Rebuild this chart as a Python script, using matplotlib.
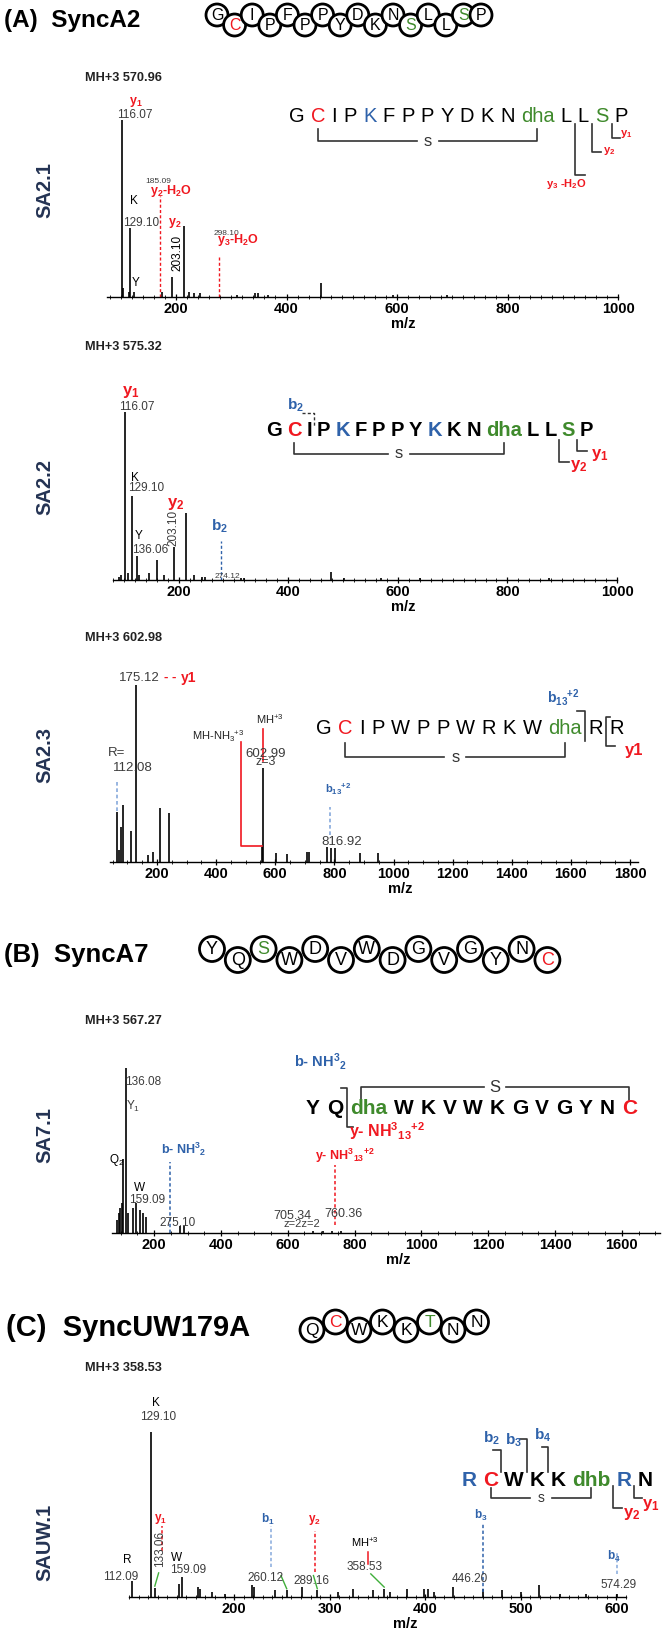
import matplotlib
matplotlib.use("Agg")
import matplotlib.pyplot as plt
from matplotlib.lines import Line2D
from matplotlib.patches import Ellipse
from matplotlib.ticker import MultipleLocator

plt.rcParams["font.family"] = ["Liberation Sans", "DejaVu Sans"]
plt.rcParams["mathtext.default"] = "regular"

RED = "#f01820"
BLUE = "#2f62aa"
LBLUE = "#86a9dc"
GREEN = "#3f8a2c"
NAVY = "#243353"
GREY = "#3c3c3c"
CMAP = {"k": "black", "r": RED, "b": BLUE, "g": GREEN}

# ---------------- data ----------------
headers = ["(A)  SyncA2", "(B)  SyncA7", "(C)  SyncUW179A"]
beads_a = list("GCIPFPPYDKNSLLSP")
beads_b = list("YQSWDVWDGVGYNC")
beads_c = list("QCWKKTNN")
ups_a = [1, 0, 1, 0, 1, 0, 1, 0, 1, 0, 1, 0, 1, 0, 1, 1]
ups_b = [1, 0, 1, 0, 1, 0, 1, 0, 1, 0, 1, 0, 1, 0]
ups_c = [0, 1, 0, 1, 0, 1, 0, 1]
bead_colors = {"C": RED, "S": GREEN, "T": GREEN}

precursors = ["MH+3 570.96", "MH+3 575.32", "MH+3 602.98", "MH+3 567.27", "MH+3 358.53"]
names = ["SA2.1", "SA2.2", "SA2.3", "SA7.1", "SAUW.1"]

# SA2.1 peaks (m/z, relative intensity %)
sa21_mz = [102, 104, 114, 116.5, 123, 174, 192, 215, 224, 233, 244, 310, 343, 349, 366, 463, 592, 690]
sa21_int = [100, 5, 3, 39, 3, 3, 11.5, 40, 3, 2, 2, 1, 2, 2, 1, 8, 1, 1]
sa21_frag_mz = [171, 278]
sa21_frag_top = [57, 24]

# SA2.2
sa22_mz = [91, 95, 101.4, 107, 115, 123, 127, 145, 161, 173, 190.5, 213, 228, 243, 248, 314, 319,
           477.5, 501, 569, 640, 876]
sa22_int = [2, 3, 100, 4, 50, 14, 3, 4, 12, 3, 19.5, 40, 3, 2, 2, 1, 1, 5, 1, 1, 1, 1]
sa22_frag_mz = [276.6]
sa22_frag_top = [23]

# SA2.3
sa23_mz = [66, 71.5, 77, 84, 112, 129, 168.5, 185, 210, 240.6, 555, 559.8, 601.5, 638.8, 708.5, 713,
           774, 789, 802, 887, 948.7]
sa23_int = [28.4, 7, 20, 32, 17.7, 100, 4, 5.8, 30.7, 27.9, 8.6, 53, 4.9, 4.5, 5.8, 5.8, 8.3, 8, 8, 4.9, 4.9]
sa23_frag_mz = [66, 785]
sa23_frag_lo = [29, 15]
sa23_frag_hi = [46, 31]

# SA7.1
sa71_mz = [89, 94, 98, 103, 108, 115, 123, 136, 146, 158, 168, 176, 278, 290, 676, 705, 731, 760]
sa71_int = [8, 12, 15, 18, 45, 100, 12, 15, 18, 14, 12, 10, 4, 4, 1, 1.5, 1, 1.5]
sa71_frag_mz = [249, 740]
sa71_frag_lo = [0, 5]
sa71_frag_hi = [43, 41]

# SAUW.1
uw_mz = [93, 113, 117, 142, 145, 162, 164, 177, 190, 219, 221, 243, 255, 271, 287, 309, 324, 345, 357,
         363, 381, 399, 403, 409, 429, 460, 480, 500, 519, 541, 568, 601]
uw_int = [9.4, 100, 5.6, 8, 12, 6, 5, 3, 2, 7, 6, 4, 4, 6, 4, 3, 5, 4, 5, 3, 5, 5, 5, 3, 6, 5, 4,
          3, 7.5, 2, 2, 2]
uw_frag_mz = [125, 239, 285, 460, 601]
uw_frag_lo = [28, 18, 15, 3, 14]
uw_frag_hi = [43, 43, 40, 45, 27]
uw_frag_col = [RED, LBLUE, RED, BLUE, LBLUE]

seq_21 = ["G", "C", "I", "P", "K", "F", "P", "P", "Y", "D", "K", "N", "dha", "L", "L", "S", "P"]
col_21 = "krkkbkkkkkkkgkkgk"
seq_22 = ["G", "C", "I", "P", "K", "F", "P", "P", "Y", "K", "K", "N", "dha", "L", "L", "S", "P"]
col_22 = "krkkbkkkkbkkgkkgk"
seq_23 = ["G", "C", "I", "P", "W", "P", "P", "W", "R", "K", "W", "dha", "R", "R"]
col_23 = "krkkkkkkkkkgkk"
seq_71 = ["Y", "Q", "dha", "W", "K", "V", "W", "K", "G", "V", "G", "Y", "N", "C"]
col_71 = "kkgkkkkkkkkkkr"
seq_uw = ["R", "C", "W", "K", "K", "dhb", "R", "N"]
col_uw = "brkkkgbk"

# ---------------- helpers ----------------
W, H = 664, 1639
fig = plt.figure(figsize=(W / 100, H / 100), dpi=100)
REND = fig.canvas.get_renderer()


def ftext(x, y, s, **kw):
    kw.setdefault("ha", "center")
    kw.setdefault("va", "center")
    return fig.text(x / W, 1 - y / H, s, **kw)


def fline(xs, ys, color="#333333", lw=1.2, ls="-"):
    fig.add_artist(Line2D([x / W for x in xs], [1 - y / H for y in ys], transform=fig.transFigure,
                          color=color, lw=lw, linestyle=ls))


def beads(letters, ups, x0, step, y_up, y_down, r, size):
    for i, (ch, up) in enumerate(zip(letters, ups)):
        x = x0 + i * step
        y = y_up if up else y_down
        fig.add_artist(Ellipse((x / W, 1 - y / H), 2 * r / W, 2 * r / H, transform=fig.transFigure,
                               facecolor="white", edgecolor="black", lw=2.0, zorder=3))
        ftext(x, y + 0.5, ch, fontsize=size, color=bead_colors.get(ch, "black"), zorder=4)


def seq_row(tokens, colors, x0, y, size=14.5, gap=6.0, weight="normal"):
    spans = []
    x = x0
    for tok, c in zip(tokens, colors):
        t = ftext(x, y, tok, color=CMAP[c], fontsize=size, fontweight=weight, ha="left")
        w = t.get_window_extent(renderer=REND).width
        spans.append((x, x + w))
        x += w + gap
    return spans


def mid(spans, i):
    return (spans[i][0] + spans[i][1]) / 2


def between(spans, i):
    return (spans[i][1] + spans[i + 1][0]) / 2


def s_bracket(x1, x2, y_end, y_bar, label="s", size=12):
    xm = (x1 + x2) / 2
    fline([x1, x1, xm - 11], [y_end, y_bar, y_bar])
    fline([xm + 11, x2, x2], [y_bar, y_bar, y_end])
    ftext(xm, y_bar, label, fontsize=size, color="#333333")


def spectrum(box, xlim, ticks, minor, mz, inten, name, prec, mz_x, name_y):
    left, right, base, top = box
    ax = fig.add_axes([left / W, 1 - base / H, (right - left) / W, (base - top) / H])
    ax.patch.set_alpha(0)
    ax.vlines(mz, 0, inten, color="black", lw=1.2)
    ax.set_xlim(*xlim)
    ax.set_ylim(0, 100)
    for s in ("left", "right", "top"):
        ax.spines[s].set_visible(False)
    ax.spines["bottom"].set_linewidth(1.0)
    ax.set_yticks([])
    ax.set_xticks(ticks)
    ax.xaxis.set_minor_locator(MultipleLocator(minor))
    ax.tick_params(axis="x", which="major", direction="inout", length=5, width=0.9,
                   labelsize=10.5, pad=1)
    ax.tick_params(axis="x", which="minor", direction="inout", length=3, width=0.6)
    for lab in ax.get_xticklabels():
        lab.set_fontweight("bold")
    ftext(mz_x, base + 27, "m/z", fontsize=10.5, fontweight="bold")
    ftext(45, name_y, name, rotation=90, fontsize=14.5, fontweight="bold", color=NAVY)
    ftext(85, prec, precursors[names.index(name)], ha="left", fontsize=9.2, fontweight="bold",
          color="#222222")
    return ax


def small(x, y, s, size=8.5, color=GREY, **kw):
    return ftext(x, y, s, fontsize=size, color=color, **kw)


def ion(x, y, s, color=RED, size=8.5, **kw):
    return ftext(x, y, s, fontsize=size, color=color, fontweight="bold", **kw)


def dnote(ax, x, y, s, size=8.5, color=GREY, weight="normal", **kw):
    ax.text(x, y, s, fontsize=size, color=color, fontweight=weight, ha="center", va="center",
            clip_on=False, **kw)


DASH = (0, (2.2, 1.6))

# ---------------- panel A ----------------
ftext(4, 20, headers[0], ha="left", fontsize=17.5, fontweight="bold")
beads(beads_a, ups_a, 217, 17.6, 15, 25, 11, 11.5)

# SA2.1
ax = spectrum((107, 618, 297, 120), (75, 1000), range(200, 1001, 200), 20,
              sa21_mz, sa21_int, "SA2.1", 78, 403, 190)
ax.vlines(sa21_frag_mz, 0, sa21_frag_top, colors=RED, lw=1.0, linestyles=[DASH])
dnote(ax, 128, 110, "y$_1$", size=9, color=RED, weight="bold")
dnote(ax, 125, 103, "116.07")
dnote(ax, 168, 65, "185.09", size=6)
dnote(ax, 190, 60, "y$_2$-H$_2$O", size=9, color=RED, weight="bold")
dnote(ax, 123, 54, "K", color="black")
dnote(ax, 137, 42, "129.10")
dnote(ax, 197, 42, "y$_2$", size=9, color=RED, weight="bold")
dnote(ax, 202, 25, "203.10", rotation=90, color="black")
dnote(ax, 291, 36, "298.10", size=6)
dnote(ax, 312, 32, "y$_3$-H$_2$O", size=9, color=RED, weight="bold")
dnote(ax, 126, 8, "Y", color="black")

sp = seq_row(seq_21, col_21, 289, 117, size=14.5, gap=6.2)
s_bracket(mid(sp, 1), mid(sp, 12), 129, 141)
xb = between(sp, 15)
fline([xb, xb, xb + 8], [124, 138, 138])
ion(xb + 15, 134, "y$_1$", size=8)
xb = between(sp, 14)
fline([xb, xb, xb + 9], [124, 152, 152])
ion(xb + 17, 151, "y$_2$", size=8)
xb = between(sp, 13)
fline([xb, xb, xb + 10], [124, 175, 175])
ion(xb - 8, 184, "y$_3$ -H$_2$O", size=8)

# SA2.2
ax = spectrum((113, 617, 580, 412), (80, 1000), range(200, 1001, 200), 20,
              sa22_mz, sa22_int, "SA2.2", 347, 403, 487)
ax.vlines(sa22_frag_mz, 0, sa22_frag_top, colors=BLUE, lw=1.0, linestyles=[DASH])
dnote(ax, 113, 112, "y$_1$", size=12, color=RED, weight="bold")
dnote(ax, 123, 103, "116.07")
dnote(ax, 120, 61, "K", color="black")
dnote(ax, 141, 55, "129.10")
dnote(ax, 195, 45, "y$_2$", size=12, color=RED, weight="bold")
dnote(ax, 191, 31, "203.10", rotation=90)
dnote(ax, 127, 26, "Y", color="black")
dnote(ax, 148, 18, "136.06")
dnote(ax, 275, 32, "b$_2$", size=11, color=BLUE, weight="bold")
dnote(ax, 288, 2, "274.12", size=6)

sp = seq_row(seq_22, col_22, 266, 430, size=14.5, gap=5.0, weight="bold")
s_bracket(mid(sp, 1), mid(sp, 12), 443, 454)
xb = between(sp, 2)
fline([xb - 12, xb, xb], [413, 413, 427], ls=DASH, lw=1.0)
ion(mid(sp, 1) + 1, 405, "b$_2$", color=BLUE, size=11)
xb = between(sp, 14)
fline([xb, xb, xb + 10], [440, 462, 462])
ion(xb + 20, 466, "y$_2$", size=12)
xb = between(sp, 15)
fline([xb, xb, xb + 10], [440, 451, 451])
ion(xb + 22, 455, "y$_1$", size=12)

# SA2.3
ax = spectrum((110, 638, 862, 685), (41, 1827), range(200, 1801, 200), 50,
              sa23_mz, sa23_int, "SA2.3", 638, 400, 755)
ax.vlines(sa23_frag_mz, sa23_frag_lo, sa23_frag_hi, colors=LBLUE, lw=1.2, linestyles=[DASH])
mh = sa23_mz[11]
ax.plot([mh, mh], [57, 75], color=RED, lw=1.2, clip_on=False)
nh3 = sa23_mz[10]
ax.plot([nh3, nh3 - 72, nh3 - 72], [9, 9, 68], color=RED, lw=1.2, clip_on=False)
small(139, 678, "175.12", size=9.5)
ion(170, 678, "- -", size=9.5)
ion(189, 678, "y1", size=10)
small(117, 753, "R=", size=9.5)
small(133, 768, "112.08", size=9.5)
small(218, 736, "MH-NH$_3$$^{+3}$", size=8, color="#222222")
small(270, 719, "MH$^{+3}$", size=8, color="#222222")
small(266, 754, "602.99", size=9.5)
small(266, 762, "z=3", size=9)
ion(338, 789, "b$_{13}$$^{+2}$", color=BLUE, size=8)
small(342, 842, "816.92", size=9.5)

sp = seq_row(seq_23, col_23, 316, 728, size=14.5, gap=6.5)
s_bracket(mid(sp, 1), mid(sp, 11), 743, 757)
xb = between(sp, 11)
fline([xb - 8, xb, xb], [711, 711, 741])
ion(xb - 22, 698, "b$_{13}$$^{+2}$", color=BLUE, size=10)
xb = between(sp, 12)
fline([xb + 4, xb, xb, xb + 9], [717, 717, 746, 746])
ion(xb + 28, 750, "y1", size=12)

# ---------------- panel B ----------------
ftext(4, 955, headers[1], ha="left", fontsize=18.5, fontweight="bold")
beads(beads_b, ups_b, 212, 25.8, 949, 960, 12.5, 13)

ax = spectrum((112, 660, 1233, 1068), (74, 1714), range(200, 1601, 200), 50,
              sa71_mz, sa71_int, "SA7.1", 1021, 398, 1135)
ax.vlines(sa71_frag_mz[0], sa71_frag_lo[0], sa71_frag_hi[0], colors=BLUE, lw=1.1, linestyles=[DASH])
ax.vlines(sa71_frag_mz[1], sa71_frag_lo[1], sa71_frag_hi[1], colors=RED, lw=1.1, linestyles=[DASH])
small(143, 1082, "136.08")
small(126, 1106, "Y$_1$", ha="left")
small(117, 1160, "Q$_2$", color="black")
small(140, 1188, "W", color="black")
small(147, 1200, "159.09")
small(178, 1223, "275.10")
ion(184, 1149, "b- NH$^3$$_2$", color=BLUE, size=9)
small(292, 1216, "705.34", size=9)
small(302, 1224, "z=2z=2", size=8)
small(343, 1214, "760.36", size=9)
ion(345, 1156, "y- NH$^3$$_{13}$$^{+2}$", size=9)

sp = seq_row(seq_71, col_71, 306, 1108, size=15, gap=6.9, weight="bold")
s_bracket(mid(sp, 2) - 8, mid(sp, 13), 1100, 1087, label="S", size=12)
xb = between(sp, 1)
fline([xb - 6, xb, xb, xb + 6], [1088, 1088, 1127, 1127])
ion(xb - 26, 1062, "b- NH$^3$$_2$", color=BLUE, size=10.5)
ion(xb + 40, 1131, "y- NH$^3$$_{13}$$^{+2}$", size=11.5)

# ---------------- panel C ----------------
ftext(6, 1328, headers[2], ha="left", fontsize=21, fontweight="bold")
beads(beads_c, ups_c, 312, 23.5, 1322, 1330, 12, 12.5)

ax = spectrum((129, 626, 1597, 1432), (90, 610), range(200, 601, 100), 10,
              uw_mz, uw_int, "SAUW.1", 1368, 405, 1542)
for m, lo, hi, c in zip(uw_frag_mz, uw_frag_lo, uw_frag_hi, uw_frag_col):
    ax.vlines(m, lo, hi, colors=c, lw=1.1, linestyles=[DASH])
mh = uw_mz[18]
ax.plot([mh - 17, mh - 17], [20, 27], color=RED, lw=1.1)
for i, dx in ((2, 4), (12, -6), (14, -4), (18, -14)):
    ax.plot([uw_mz[i], uw_mz[i] + dx], [uw_int[i] + 1, uw_int[i] + 9], color="#3fae3a", lw=1.0)
small(156, 1403, "K", color="black")
small(158, 1417, "129.10")
small(127, 1560, "R", color="black")
small(121, 1577, "112.09")
small(160, 1549, "133.06", rotation=90)
small(177, 1558, "W", color="black")
small(188, 1570, "159.09")
ion(161, 1519, "y$_1$", size=8.5)
ion(268, 1519, "b$_1$", color=BLUE, size=8.5)
ion(314, 1520, "y$_2$", size=8.5)
ion(481, 1515, "b$_3$", color=BLUE, size=8.5)
ion(614, 1556, "b$_4$", color=BLUE, size=8.5)
small(365, 1542, "MH$^{+3}$", color="black", size=8)
small(365, 1567, "358.53")
small(265, 1578, "260.12")
small(311, 1581, "289.16")
small(470, 1579, "446.20")
small(619, 1585, "574.29")

sp = seq_row(seq_uw, col_uw, 462, 1480, size=15, gap=6.0, weight="bold")
s_bracket(mid(sp, 1), mid(sp, 5), 1488, 1498, size=10)
xb = between(sp, 5)
fline([xb, xb, xb + 9], [1486, 1508, 1508])
ion(xb + 18, 1514, "y$_2$", size=12)
xb = between(sp, 6)
fline([xb, xb, xb + 8], [1486, 1498, 1498])
ion(xb + 17, 1505, "y$_1$", size=12)
xb = between(sp, 1)
fline([xb - 8, xb, xb], [1450, 1450, 1472])
ion(xb - 10, 1438, "b$_2$", color=BLUE, size=11)
xb = between(sp, 2)
fline([xb - 7, xb, xb], [1439, 1439, 1472])
ion(xb - 13, 1440, "b$_3$", color=BLUE, size=11)
xb = between(sp, 3)
fline([xb - 6, xb, xb], [1447, 1447, 1472])
ion(xb - 5, 1435, "b$_4$", color=BLUE, size=11)

fig.savefig("out.png", dpi=100)
